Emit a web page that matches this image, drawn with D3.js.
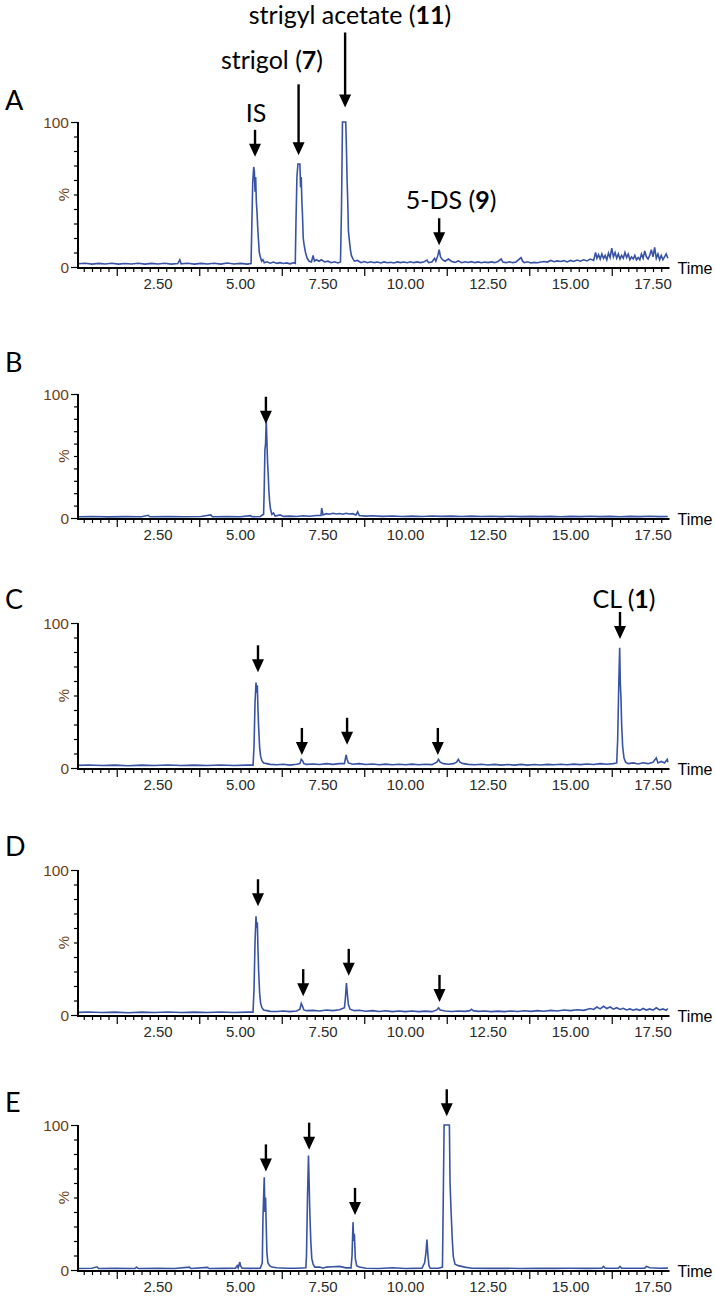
<!DOCTYPE html>
<html><head><meta charset="utf-8">
<script src="https://cdn.jsdelivr.net/npm/d3@7"></script>
<style>body{margin:0;background:#fff}</style>
</head><body><svg id="c" width="715" height="1296"></svg>
<script>
// ---------- DATA ----------
const panelNames = ["A","B","C","D","E"];
const timeTickValues = [2.5,5,7.5,10,12.5,15,17.5];
const timeTickLabels = ["2.50","5.00","7.50","10.00","12.50","15.00","17.50"];
const yTickLabels = ["0","100"];

const traceA = [[0.08,2.2],[0.3,2.6],[0.5,2.0],[0.7,2.5],[0.9,2.1],[1.1,2.6],[1.3,2.0],[1.5,2.4],[1.7,2.1],[1.9,2.6],[2.1,2.0],[2.3,2.5],[2.5,2.1],[2.7,2.6],[2.9,2.0],[3.1,2.4],[3.16,5.0],[3.2,2.2],[3.4,2.6],[3.6,2.0],[3.8,2.5],[4.0,2.1],[4.2,2.6],[4.4,2.0],[4.6,2.8],[4.8,2.1],[5.0,2.5],[5.2,2.0],[5.32,2.4],
[5.34,25],[5.37,58],[5.40,69],[5.42,66],[5.44,52],[5.46,62],[5.48,45],[5.50,38],[5.52,28],[5.54,20],[5.57,10],[5.60,7],[5.64,4],[5.68,5],[5.72,3],[5.8,3.6],[5.9,2.6],[6.0,3.4],[6.1,2.5],[6.2,3.0],[6.3,2.4],[6.4,2.8],[6.5,2.2],[6.6,2.9],[6.66,2.5],
[6.68,30],[6.71,62],[6.74,71],[6.80,71],[6.82,55],[6.84,62],[6.86,45],[6.88,35],[6.90,20],[6.93,15],[6.97,10],[7.02,6],[7.08,4],[7.15,3.5],[7.2,8],[7.24,4],[7.3,5],[7.38,4],[7.45,5],[7.55,3.5],[7.65,4],[7.75,3],[7.85,3.6],[7.95,2.8],[8.03,3.5],
[8.06,40],[8.09,100],[8.19,100],[8.21,82],[8.23,60],[8.25,45],[8.27,25],[8.30,18],[8.33,12],[8.36,8],[8.40,6],[8.45,4],[8.55,4.5],[8.65,3],[8.75,3.8],[8.85,3],[8.95,3.6],[9.05,3],[9.15,3.4],[9.25,2.8],[9.35,3.5],[9.45,2.9],[9.55,3.3],[9.65,2.8],[9.75,3.5],[9.85,3],[9.95,3.4],[10.05,2.9],[10.15,3.6],[10.25,3],[10.35,3.5],[10.45,3],[10.55,3.4],[10.65,4.8],[10.7,3],[10.8,3.5],[10.88,6],[10.92,4],[10.98,8],[11.02,12],[11.06,7],[11.12,5],[11.2,4],[11.3,5.5],[11.4,3.8],[11.5,3.2],[11.6,4.2],[11.7,3.0],[11.8,3.6],[11.9,3.1],[12.0,3.7],[12.1,3.0],[12.2,3.5],[12.3,2.9],[12.4,3.4],[12.5,3.0],[12.6,3.5],[12.7,3.0],[12.8,3.8],[12.9,5.5],[12.95,3.4],[13.05,3.0],[13.15,3.6],[13.25,3.0],[13.35,3.5],[13.5,6.5],[13.55,4],[13.6,3.0],[13.7,3.6],[13.8,2.8],[13.9,3.2],[14.0,2.9],[14.1,3.5],[14.2,3.8],[14.3,3.4],[14.4,4.5],[14.5,3.6],[14.6,4.2],[14.7,3.8],[14.8,4.4],[14.9,3.5],[15.0,4.5],[15.1,3.8],[15.2,4.8],[15.3,4.0],[15.4,5.0],[15.5,4.2],[15.6,5.5],[15.7,4.5],[15.76,10],[15.8,6],[15.85,8.5],[15.9,5.5],[15.95,9],[16.0,6],[16.05,8],[16.1,5],[16.15,9.5],[16.2,6.5],[16.25,13],[16.3,7],[16.35,10],[16.4,6],[16.45,9],[16.5,5.5],[16.55,8],[16.6,6],[16.65,10],[16.7,6.5],[16.75,9],[16.8,5],[16.85,7],[16.9,5.5],[16.95,8],[17.0,5],[17.05,6.5],[17.1,5],[17.15,9],[17.2,6],[17.25,11],[17.3,7],[17.35,5.5],[17.4,8],[17.45,12],[17.5,7],[17.55,13.5],[17.6,6],[17.65,9],[17.7,5],[17.75,8],[17.8,5],[17.85,7],[17.9,9],[17.95,6]];

const traceB = [[0.08,1],[0.5,1.2],[1.0,0.9],[1.5,1.1],[2.0,1.0],[2.2,2.2],[2.25,1],[2.8,1.1],[3.3,1.0],[3.8,1.2],[4.1,2.5],[4.15,1],[4.6,1.1],[5.0,1.0],[5.3,1.9],[5.35,1],[5.6,1.2],[5.70,3],[5.72,25],[5.74,55],[5.76,60],[5.78,80],[5.80,62],[5.82,45],[5.84,35],[5.86,22],[5.88,14],[5.91,7],[5.95,3],[6.0,4],[6.05,1.5],[6.2,2.5],[6.3,1.3],[6.5,1.5],[6.7,1.2],[6.9,1.8],[7.1,1.4],[7.3,2.0],[7.44,2],[7.46,8],[7.5,2.5],[7.6,3.5],[7.7,3],[7.8,3.8],[7.9,3.2],[8.0,3.6],[8.1,3],[8.2,3.8],[8.3,3.2],[8.4,3.5],[8.5,2.5],[8.55,5],[8.6,2],[8.8,1.5],[9.0,1.8],[9.3,1.3],[9.6,1.6],[9.9,1.2],[10.2,1.5],[10.5,1.2],[10.8,1.6],[11.1,1.3],[11.4,1.5],[11.7,1.2],[12.0,1.5],[12.3,1.2],[12.6,1.4],[12.9,1.1],[13.2,1.4],[13.5,1.1],[13.8,1.3],[14.1,1.1],[14.4,1.3],[14.7,1.0],[15.0,1.3],[15.3,1.1],[15.6,1.4],[15.9,1.1],[16.2,1.3],[16.5,1.0],[16.8,1.3],[17.1,1.1],[17.4,1.4],[17.7,1.1],[17.95,1.2]];

const traceC = [[0.08,1.8],[0.4,2.1],[0.8,1.7],[1.2,2.0],[1.6,1.6],[2.0,2.0],[2.4,1.7],[2.8,2.1],[3.2,1.7],[3.6,2.0],[4.0,1.7],[4.4,2.1],[4.8,1.7],[5.2,2.0],[5.38,2],
[5.41,15],[5.44,45],[5.47,59],[5.49,52],[5.51,57],[5.53,40],[5.55,28],[5.58,14],[5.61,8],[5.65,5],[5.70,3.5],[5.8,3],[5.9,2.5],[6.1,2.2],[6.3,2.6],[6.5,2.0],[6.7,2.6],[6.8,3],[6.84,6],[6.88,5],[6.92,3],[7.0,2.5],[7.2,2.8],[7.4,2.4],[7.6,3.0],[7.8,2.5],[8.0,3.0],[8.15,3],[8.2,9],[8.23,6],[8.27,3.5],[8.4,2.6],[8.6,3.0],[8.8,2.4],[9.0,2.8],[9.2,2.2],[9.4,2.7],[9.6,2.2],[9.8,2.6],[10.0,2.2],[10.2,2.7],[10.4,2.2],[10.6,2.6],[10.8,2.3],[10.95,4],[11.0,6],[11.05,4],[11.15,3],[11.3,2.6],[11.45,3],[11.55,4],[11.6,6],[11.65,4],[11.75,3],[11.9,2.5],[12.1,2.2],[12.3,2.6],[12.5,2.1],[12.7,2.5],[12.9,2.0],[13.1,2.4],[13.3,2.0],[13.5,2.5],[13.7,2.0],[13.9,2.4],[14.1,2.1],[14.3,2.5],[14.5,2.2],[14.7,2.6],[14.9,2.2],[15.1,2.7],[15.3,2.3],[15.5,2.8],[15.7,2.4],[15.9,3.0],[16.1,2.6],[16.3,3.0],[16.4,3.5],
[16.43,20],[16.46,55],[16.49,83],[16.51,58],[16.53,48],[16.55,30],[16.58,15],[16.62,7],[16.67,4],[16.75,3],[16.9,3.5],[17.05,2.8],[17.2,3.6],[17.35,3],[17.5,4],[17.6,7],[17.65,3.5],[17.75,4.5],[17.85,3.5],[17.93,6],[17.95,4]];

const traceD = [[0.08,1.8],[0.4,2.1],[0.8,1.7],[1.2,2.0],[1.6,1.6],[2.0,2.0],[2.4,1.7],[2.8,2.1],[3.2,1.7],[3.6,2.0],[4.0,1.7],[4.4,2.1],[4.8,1.7],[5.2,2.0],[5.38,2],
[5.41,18],[5.44,50],[5.47,68],[5.49,60],[5.51,64],[5.53,45],[5.55,30],[5.58,15],[5.61,8],[5.65,5],[5.70,3.5],[5.8,3],[5.9,2.5],[6.1,2.4],[6.3,2.8],[6.5,2.3],[6.7,2.8],[6.8,4],[6.84,8],[6.88,6],[6.92,3.5],[7.0,3],[7.2,3.2],[7.4,2.8],[7.6,3.4],[7.8,3.0],[8.0,3.6],[8.15,5],[8.18,12],[8.21,22],[8.24,14],[8.27,7],[8.32,4],[8.45,3],[8.6,3.3],[8.8,2.6],[9.0,3.0],[9.2,2.4],[9.4,2.9],[9.6,2.3],[9.8,2.8],[10.0,2.3],[10.2,2.8],[10.4,2.3],[10.6,2.7],[10.8,2.3],[10.95,3.5],[11.0,5],[11.05,3.5],[11.2,2.8],[11.4,2.4],[11.6,2.8],[11.8,2.5],[11.95,3],[12.0,4],[12.05,3],[12.2,2.5],[12.4,2.8],[12.6,2.3],[12.8,2.7],[13.0,2.3],[13.2,2.8],[13.4,2.4],[13.6,2.9],[13.8,2.5],[14.0,3.0],[14.2,2.6],[14.4,3.2],[14.6,2.8],[14.8,3.4],[15.0,3.0],[15.2,3.6],[15.4,3.2],[15.6,4.5],[15.7,3.8],[15.8,5.5],[15.9,4.2],[16.0,6],[16.1,4.5],[16.2,5.5],[16.3,4],[16.4,5],[16.5,3.8],[16.6,4.6],[16.7,3.5],[16.8,4.2],[16.9,3.3],[17.0,4],[17.1,3.2],[17.2,4.5],[17.3,3.4],[17.4,4.2],[17.5,3.3],[17.6,5],[17.7,3.5],[17.8,4.2],[17.9,3.3],[17.95,4.5]];

const traceE = [[0.08,1],[0.5,1.2],[0.65,2.2],[0.7,1],[1.2,1.1],[1.8,1],[1.85,2],[1.9,1],[2.5,1.1],[3.0,1],[3.45,2],[3.5,1],[4.0,1.8],[4.05,1],[4.5,1.1],[4.85,1.2],[4.9,3],[4.93,1.5],[4.98,5.5],[5.0,3],[5.05,1.2],[5.3,1.1],[5.6,1.2],[5.66,5],[5.68,35],[5.70,50],[5.72,64],[5.74,40],[5.76,50],[5.78,30],[5.80,12],[5.83,5],[5.88,3],[5.95,2],[6.1,1.5],[6.4,1.2],[6.7,1.2],[6.98,1.5],[7.0,10],[7.03,50],[7.06,79],[7.08,60],[7.10,40],[7.13,20],[7.16,8],[7.2,4],[7.25,2],[7.4,2],[7.5,1.2],[7.6,2],[7.8,2.2],[8.0,2.5],[8.2,1.5],[8.35,1.5],[8.38,10],[8.41,33],[8.43,20],[8.45,25],[8.48,8],[8.52,3],[8.6,2],[8.8,1.2],[9.2,1],[9.6,1.5],[10.0,1],[10.5,1.3],[10.58,5],[10.62,12],[10.65,21],[10.68,10],[10.71,3],[10.75,1.2],[11.0,1.2],[11.12,2],[11.15,60],[11.17,100],[11.33,100],[11.35,60],[11.38,41],[11.42,20],[11.45,9],[11.5,4],[11.6,3],[11.8,2],[12.0,1.2],[12.5,1.1],[13.0,1.2],[13.5,1],[14.0,1.2],[14.5,1.1],[15.0,1.2],[15.5,1.1],[15.95,1.2],[16.0,2.5],[16.05,1.2],[16.45,1.2],[16.5,2.5],[16.55,1.2],[17.25,1.3],[17.3,2.5],[17.4,1.5],[17.7,1.2],[17.95,1.3]];

// arrows: peak time, tip value (%) and length (px) ; labels
const arrowsA = [{t:5.44,tip:76,len:27},{t:6.76,tip:77,len:71},{t:8.17,tip:110,len:75},{t:11.02,tip:15,len:27}];
const arrowsB = [{t:5.77,tip:76,len:27}];
const arrowsC = [{t:5.53,tip:66,len:27},{t:6.86,tip:9,len:27},{t:8.23,tip:16,len:27},{t:10.98,tip:9,len:27},{t:16.5,tip:89,len:27}];
const arrowsD = [{t:5.53,tip:75,len:27},{t:6.9,tip:13,len:27},{t:8.28,tip:27,len:27},{t:11.03,tip:9,len:27}];
const arrowsE = [{t:5.77,tip:68,len:27},{t:7.08,tip:83,len:27},{t:8.47,tip:38,len:27},{t:11.25,tip:106,len:27}];

const labelsA = [{pre:"IS",num:"",post:"",x:256,y:122},{pre:"strigol (",num:"7",post:")",x:272,y:69},{pre:"strigyl acetate (",num:"11",post:")",x:350,y:24},{pre:"5-DS (",num:"9",post:")",x:451,y:209}];
const labelsC = [{pre:"CL (",num:"1",post:")",x:624,y:608}];

// ---------- LAYOUT ----------
const panels = [
  {name:panelNames[0], trace:traceA, arrows:arrowsA, labels:labelsA, y0:267, h:145, letterY:110},
  {name:panelNames[1], trace:traceB, arrows:arrowsB, labels:[], y0:518, h:124, letterY:372},
  {name:panelNames[2], trace:traceC, arrows:arrowsC, labels:labelsC, y0:768, h:145, letterY:609},
  {name:panelNames[3], trace:traceD, arrows:arrowsD, labels:[], y0:1015, h:145, letterY:856},
  {name:panelNames[4], trace:traceE, arrows:arrowsE, labels:[], y0:1270, h:145, letterY:1112}
];

const svg = d3.select("#c");
svg.append("rect").attr("width",715).attr("height",1296).attr("fill","#fff");
const x = d3.scaleLinear().domain([0,18]).range([75.5,669.5]);
const axisX0 = 78;
const lineColor = "#3953a4";
const yLabColor = "#6e3f17";

panels.forEach(p => {
  const y = d3.scaleLinear().domain([0,100]).range([p.y0, p.y0 - p.h]);
  const g = svg.append("g");

  g.append("text").attr("x",5).attr("y",p.letterY).text(p.name)
    .attr("font-family","Lato, 'Open Sans', sans-serif").attr("font-size",27).attr("fill","#000");

  const line = d3.line().x(d=>x(d[0])).y(d=>y(d[1]));
  g.append("path").datum(p.trace).attr("d",line).attr("fill","none")
    .attr("stroke",lineColor).attr("stroke-width",1.6).attr("stroke-linejoin","miter");

  const yAxis = d3.axisLeft(y).tickValues(d3.range(0,101,10)).tickSize(4).tickFormat("");
  const ya = g.append("g").attr("transform",`translate(${axisX0},0)`).call(yAxis);
  ya.select(".domain").remove();
  ya.selectAll(".tick line").attr("stroke","#000").attr("stroke-width",1.2)
    .attr("x2", d => (d===0||d===100) ? -7 : -4);
  g.append("line").attr("x1",axisX0).attr("x2",axisX0).attr("y1",p.y0+1).attr("y2",p.y0-p.h)
    .attr("stroke","#000").attr("stroke-width",2);
  [0,100].forEach((v,i)=>{
    g.append("text").attr("x",69).attr("y",y(v)+5.5).attr("text-anchor","end")
      .attr("font-family","'Liberation Sans', Arial, sans-serif").attr("font-size",15.5)
      .attr("fill",yLabColor).text(yTickLabels[i]);
  });
  g.append("text").attr("transform",`translate(69,${y(50)}) rotate(-90)`).attr("text-anchor","middle")
    .attr("font-family","'Liberation Sans', Arial, sans-serif").attr("font-size",15)
    .attr("fill",yLabColor).text("%");

  const minor = d3.range(0.25,18,0.25).filter(t=>x(t)>axisX0+2);
  const xAxis = d3.axisBottom(x).tickValues(minor).tickSize(4).tickFormat("");
  const xa = g.append("g").attr("transform",`translate(0,${p.y0+1})`).call(xAxis);
  xa.select(".domain").remove();
  xa.selectAll(".tick line").attr("stroke","#000").attr("stroke-width",1.2)
    .attr("y2", d => (Math.abs(((d-1.25)/2.5) - Math.round((d-1.25)/2.5))<1e-6) ? 8 : 4);
  g.append("line").attr("x1",axisX0-1).attr("x2",x(18)).attr("y1",p.y0+1).attr("y2",p.y0+1)
    .attr("stroke","#000").attr("stroke-width",2);
  timeTickValues.forEach((t,i)=>{
    g.append("text").attr("x",x(t)).attr("y",p.y0+22).attr("text-anchor","middle")
      .attr("font-family","'Liberation Sans', Arial, sans-serif").attr("font-size",15)
      .attr("fill","#2a2a2a").text(timeTickLabels[i]);
  });
  g.append("text").attr("x",x(18)+8).attr("y",p.y0+7).text("Time")
    .attr("font-family","'Liberation Sans', Arial, sans-serif").attr("font-size",16).attr("fill","#000");

  p.arrows.forEach(a=>{
    const ax = x(a.t), tip = y(a.tip);
    g.append("line").attr("x1",ax).attr("x2",ax).attr("y1",tip-a.len).attr("y2",tip-10)
      .attr("stroke","#000").attr("stroke-width",2.4);
    g.append("path").attr("d",`M${ax-6},${tip-13}L${ax+6},${tip-13}L${ax},${tip}Z`).attr("fill","#000");
  });

  p.labels.forEach(l=>{
    const t = g.append("text").attr("x",l.x).attr("y",l.y).attr("text-anchor","middle")
      .attr("font-family","Lato, 'Open Sans', sans-serif").attr("font-size",25).attr("fill","#000");
    t.append("tspan").text(l.pre);
    if (l.num) t.append("tspan").attr("font-weight","bold").text(l.num);
    if (l.post) t.append("tspan").text(l.post);
  });
});
</script></body></html>
